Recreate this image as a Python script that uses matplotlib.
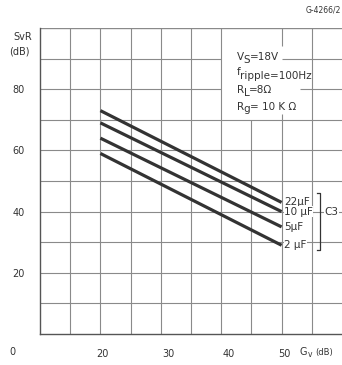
import matplotlib
matplotlib.use("Agg")
import numpy as np
import matplotlib.pyplot as plt
from matplotlib.transforms import offset_copy

# SVR vs closed loop gain, for several values of C3
gain = [20, 50]
svr_22uf = [73, 43]
svr_10uf = [69, 40]
svr_5uf = [64, 35]
svr_2uf = [59, 29]
cap_labels = ["22\u00b5F", "10 \u00b5F", "5\u00b5F", "2 \u00b5F"]

xtick_pos = [20.3, 31.2, 41.3, 50.5]
xtick_labels = ["20", "30", "40", "50"]
ytick_pos = [20, 40, 60, 80]
ytick_labels = ["20", "40", "60", "80"]

# each condition line: (text, vertical shift in points)
conditions = [
    [("V", 0), ("S", -2.0), ("=18V", 0)],
    [("f", 1.0), ("ripple=100Hz", -1.5)],
    [("R", 0), ("L", -2.0), ("=8\u03a9", 0)],
    [("R", 0), ("g", -2.0), ("= 10 K \u03a9", 0)],
]

ink = "#333333"
grid_c = "#8a8a8a"

fig = plt.figure(figsize=(3.42, 3.65), dpi=100)
ax = fig.add_axes([40 / 342, 31 / 365, 302 / 342, 306 / 365])
ax.set_xlim(10, 60)
ax.set_ylim(0, 100)

# grid, left open where the conditions text sits
for x in [15, 20, 25, 30, 35, 40, 55]:
    ax.vlines(x, 0, 100, color=grid_c, lw=0.8)
ax.vlines(45, 0, 70, color=grid_c, lw=0.8)
ax.vlines(50, 0, 72, color=grid_c, lw=0.8)
ax.vlines(50, 94, 100, color=grid_c, lw=0.8)
for y in [10, 20, 30, 40, 50, 60, 70]:
    ax.hlines(y, 10, 60, color=grid_c, lw=0.8)
ax.hlines([80, 90], 10, 40, color=grid_c, lw=0.8)
ax.hlines(90, 50, 60, color=grid_c, lw=0.8)
ax.hlines(80, 53, 60, color=grid_c, lw=0.8)
ax.hlines(100, 10, 60, color=grid_c, lw=1.0)

for s in ["top", "right"]:
    ax.spines[s].set_visible(False)
for s in ["left", "bottom"]:
    ax.spines[s].set_color("#555555")
    ax.spines[s].set_linewidth(1.0)

curves = [svr_22uf, svr_10uf, svr_5uf, svr_2uf]
for vals, lab in zip(curves, cap_labels):
    ax.plot(gain, vals, color=ink, lw=2.3, solid_capstyle="butt", zorder=3)
    ax.text(gain[-1] + 0.4, vals[-1], lab, fontsize=7.5, color=ink,
            ha="left", va="center", zorder=4,
            bbox=dict(facecolor="white", edgecolor="none", pad=0.3))

# bracket grouping the capacitor labels
ax.plot([55.9, 56.4, 56.4, 55.9], [46, 46, 27.5, 27.5], color=ink, lw=0.9,
        clip_on=False, zorder=4)
ax.text(57.1, 40, "C3", fontsize=7.5, color=ink, ha="left", va="center",
        zorder=4, bbox=dict(facecolor="white", edgecolor="none", pad=0.3))

# conditions, pieces laid out one after another along the baseline
renderer = fig.canvas.get_renderer()
for i, parts in enumerate(conditions):
    y0 = 89.5 - i * 5.4
    dx = 0.0
    for s, dy in parts:
        tr = offset_copy(ax.transData, fig=fig, x=dx, y=dy, units="points")
        t = ax.text(42.6, y0, s, fontsize=7.5, color=ink, ha="left",
                    va="baseline", transform=tr)
        dx += t.get_window_extent(renderer).width * 72 / fig.dpi - 0.3

ax.set_xticks(xtick_pos)
ax.set_xticklabels(xtick_labels)
ax.set_yticks(ytick_pos)
ax.set_yticklabels(ytick_labels)
ax.tick_params(axis="both", length=0, labelsize=7, labelcolor=ink)
ax.tick_params(axis="x", pad=11)
ax.tick_params(axis="y", pad=11)

ax.text(5.5, -6.0, "0", fontsize=7, color=ink, ha="center", va="center",
        clip_on=False)
ax.text(53.0, -6.0, "G", fontsize=7, color=ink, ha="left", va="center",
        clip_on=False)
ax.text(54.4, -6.8, "v", fontsize=5.5, color=ink, ha="left", va="center",
        clip_on=False)
ax.text(55.6, -6.0, "(dB)", fontsize=6, color=ink, ha="left", va="center",
        clip_on=False)
fig.text(23 / 342, 1 - 37 / 365, "SvR", fontsize=7, color=ink,
         ha="center", va="center")
fig.text(19 / 342, 1 - 52 / 365, "(dB)", fontsize=7, color=ink,
         ha="center", va="center")
fig.text(341 / 342, 1 - 10 / 365, "G-4266/2", fontsize=5.5, color=ink,
         ha="right", va="center")

fig.savefig("out.png", dpi=100, facecolor="white")
